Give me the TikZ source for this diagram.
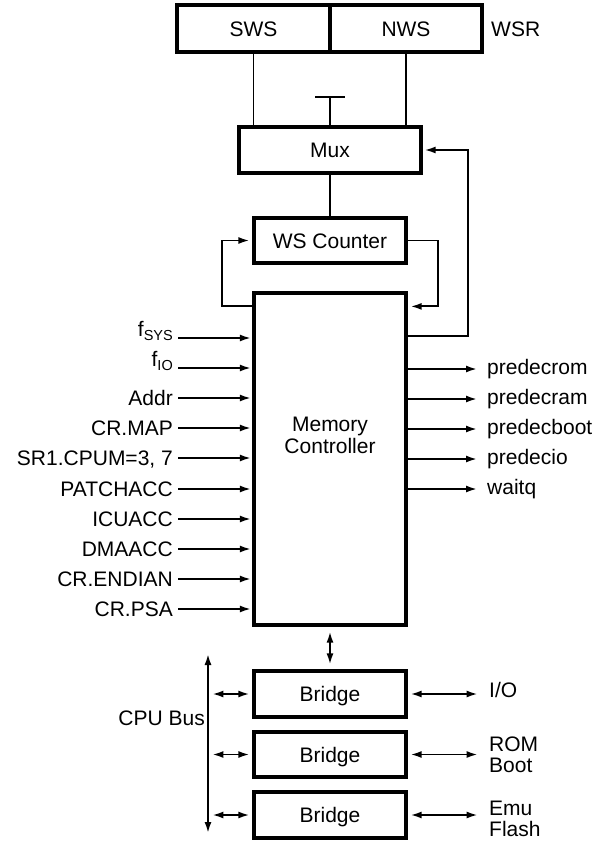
\documentclass[tikz,border=0pt]{standalone}
\usepackage{fontspec}
\setmainfont{Liberation Sans}
\usetikzlibrary{arrows.meta}
\newcommand{\fsub}[1]{\raisebox{9.5pt}{f}\raisebox{5.5pt}{\fontsize{14.5}{14.5}\selectfont #1}}
\begin{document}
\begin{tikzpicture}[x=1pt,y=-1pt,
  every node/.style={font=\fontsize{21}{21}\selectfont, inner sep=0pt},
  box/.style={draw, line width=3.2pt, minimum width=152pt, minimum height=46pt, text height=15pt, text depth=0pt},
  conn/.style={line width=1.9pt},
  arr/.style={conn, -{Latex[length=11pt,width=7pt]}},
  dbl/.style={conn, {Latex[length=11pt,width=7pt]}-{Latex[length=11pt,width=7pt]}},
  lab/.style={anchor=east, text height=15pt, text depth=0pt},
  olab/.style={anchor=west, text height=10pt, text depth=0pt},
]
\useasboundingbox (0,0) rectangle (605,841);

% boxes
\node[box, minimum width=153pt, minimum height=47pt] (sws) at (253.5,28.5) {SWS};
\node[box, minimum height=47pt] (nws) at (406,28.5) {NWS};
\node[anchor=west, text height=15pt, text depth=0pt] (wsr) at (491,28.5) {WSR};
\node[box, minimum width=182pt] (mux) at (330,150) {Mux};
\node[box, minimum height=45pt] (wsc) at (330,240.5) {WS Counter};
\node[box, minimum height=332pt] (mc) at (330,459) {};
\node[align=center, font=\fontsize{21}{22}\selectfont] (mct) at (330,435) {Memory\\Controller};
\node[box] (br1) at (330,694) {Bridge};
\node[box, minimum height=45pt] (br2) at (330,754.5) {Bridge};
\node[box] (br3) at (330,815) {Bridge};

% WSR to mux
\draw[conn] (sws.south) -- (sws.south |- mux.north);
\draw[conn] (nws.south) -- (nws.south |- mux.north);
\coordinate (tb) at (330,97);
\draw[conn] (tb) -- (mux.north);
\draw[conn] ([xshift=-15pt]tb) -- ([xshift=15pt]tb);
\draw[conn] (mux.south) -- (wsc.north);

% loops
\coordinate (mcl) at ([yshift=-15pt]mc.north west);
\coordinate (mcr) at ([yshift=-15pt]mc.north east);
\coordinate (mcf) at ([yshift=-45pt]mc.north east);
\draw[arr, shorten >=3pt] (mcl) -- ++(-30,0) |- (wsc.west);
\draw[arr, shorten >=3pt] (wsc.east) -- ++(30,0) |- (mcr);
\draw[arr, shorten >=2pt] (mcf) -- ++(60,0) |- (mux.east);

% inputs
\node[lab] (i1) at (173,338) {\fsub{SYS}};
\node[lab] (i2) at (173,368) {\fsub{IO}};
\node[lab] (i3) at (173,398) {Addr};
\node[lab] (i4) at (173,428) {CR.MAP};
\node[lab] (i5) at (173,458) {SR1.CPUM=3, 7};
\node[lab] (i6) at (173,489) {PATCHACC};
\node[lab] (i7) at (173,519) {ICUACC};
\node[lab] (i8) at (173,549) {DMAACC};
\node[lab] (i9) at (173,579) {CR.ENDIAN};
\node[lab] (i10) at (173,609) {CR.PSA};
\foreach \n in {1,...,10}
  \draw[arr, shorten >=1.5pt] ([xshift=5pt]i\n.east) -- (mc.west |- i\n.east);

% outputs
\node[olab] (o1) at (487,369) {predecrom};
\node[olab] (o2) at (487,399) {predecram};
\node[olab] (o3) at (487,429) {predecboot};
\node[olab] (o4) at (487,459) {predecio};
\node[olab] (o5) at (487,489) {waitq};
\foreach \n in {1,...,5}
  \draw[arr] (mc.east |- o\n.west) -- ([xshift=-10pt]o\n.west);

% bottom
\draw[dbl, shorten <=5pt, shorten >=5pt] (mc.south) -- (br1.north);
\coordinate (bt) at (208,654);
\coordinate (bb) at (208,833);
\draw[dbl] (bt) -- (bb);
\node[anchor=east, text height=15pt, text depth=0pt] (cpu) at (205,717.5) {CPU Bus};
\foreach \b in {br1,br2,br3} {
  \draw[dbl] ([xshift=-40pt]\b.west) -- ([xshift=-3pt]\b.west);
  \draw[dbl] ([xshift=3pt]\b.east) -- ([xshift=70pt]\b.east);
}
\node[anchor=west] (io) at (489,690) {I/O};
\node[anchor=west, align=left] (rom) at (489,754.5) {ROM\\Boot};
\node[anchor=west, align=left] (emu) at (489,819) {Emu\\Flash};
\end{tikzpicture}
\end{document}
